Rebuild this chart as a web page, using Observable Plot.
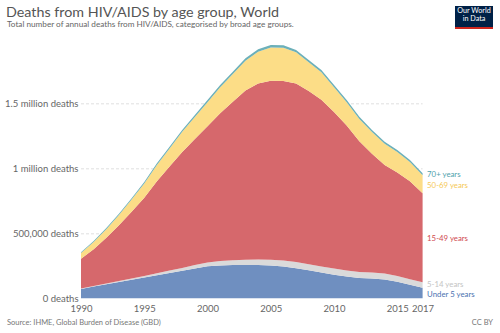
<!DOCTYPE html>
<html><head><meta charset="utf-8">
<script src="https://cdn.jsdelivr.net/npm/d3@7"></script>
<script src="https://cdn.jsdelivr.net/npm/@observablehq/plot@0.6"></script>
<style>
body{margin:0;width:500px;height:333px;position:relative;font-family:Lato,sans-serif;background:#fff;overflow:hidden}
#title{position:absolute;left:6px;top:3px;font-size:14.3px;color:#555;white-space:nowrap;line-height:17px}
#subtitle{position:absolute;left:7px;top:19px;font-size:8.2px;color:#666;white-space:nowrap;line-height:11px}
#logo{position:absolute;left:455px;top:6px;width:38px;height:20px;background:#002147;border-bottom:2px solid #ce261e;color:#fff;font-size:7.2px;line-height:8.4px;text-align:center;padding-top:1px;box-sizing:content-box}
#chart{position:absolute;left:0;top:30px}
#source{position:absolute;left:7px;top:318px;font-size:7.5px;color:#777;white-space:nowrap}
#cc{position:absolute;right:7px;top:318px;font-size:7.5px;color:#777}
</style></head><body>
<div id="title">Deaths from HIV/AIDS by age group, World</div>
<div id="subtitle">Total number of annual deaths from HIV/AIDS, categorised by broad age groups.</div>
<div id="logo">Our World<br>in Data</div>
<div id="chart"></div>
<div id="source">Source: IHME, Global Burden of Disease (GBD)</div>
<div id="cc">CC BY</div>
<script>
const years = [1990,1991,1992,1993,1994,1995,1996,1997,1998,1999,2000,2001,2002,2003,2004,2005,2006,2007,2008,2009,2010,2011,2012,2013,2014,2015,2016,2017];
// deaths, thousands
const under5 = [72,90,108,125,143,160,178,195,212,230,246,252,256,257,256,252,244,232,215,198,182,168,157,152,145,128,105,82];
const age5to14 = [4,5,6,8,10,12,15,18,22,26,30,34,37,39,42,45,46,47,47,47,47,46,46,46,45,44,42,41];
const age15to49 = [228,283,351,428,512,602,708,800,892,969,1048,1138,1218,1302,1354,1377,1382,1373,1333,1283,1205,1116,1005,913,836,795,753,685];
const age50to69 = [45,55,67,80,95,110,125,140,155,170,185,200,215,230,245,256,256,240,220,210,190,178,172,168,163,158,148,138];
const age70plus = [6,7,8,9,10,11,12,13,14,15,16,17,17,18,18,18,18,18,18,18,17,17,17,16,16,16,16,16];

const groups = ["Under 5 years","5-14 years","15-49 years","50-69 years","70+ years"];
const fills = ["#6f8fc0","#dadada","#d6686c","#fcdd87","#6cb0b9"];
const labelColors = ["#4a72b0","#c4c4c4","#d04a50","#f5c957","#4fa2ad"];
const labelNudge = [1.2,-1.2,0,0.5,-0.5];
const yTicks = [0,500000,1000000,1500000];
const yTickLabels = ["0 deaths","500,000 deaths","1 million deaths","1.5 million deaths"];
const xTicks = [1990,1995,2000,2005,2010,2015,2017];

const series = [under5, age5to14, age15to49, age50to69, age70plus];
const table = [];
groups.forEach((g,i)=>years.forEach((yr,j)=>table.push({year:yr, group:g, deaths:series[i][j]*1000})));

// label positions: middle of each band at last year
const last = years.length-1;
let cum = 0;
const labels = groups.map((g,i)=>{
  const v = series[i][last]*1000;
  const mid = cum + v/2; cum += v;
  return {year:years[last], y:mid, text:g, color:labelColors[i], nudge:labelNudge[i]};
});

const plot = Plot.plot({
  width:500, height:290,
  marginLeft:81, marginRight:77.4, marginTop:8.3, marginBottom:21.7,
  style:{fontFamily:"Lato, sans-serif", fontSize:"9.5px", color:"#666", background:"transparent", overflow:"visible"},
  x:{domain:[1990,2017]},
  y:{domain:[0,2000000]},
  color:{domain:groups, range:fills},
  marks:[
    Plot.ruleY(yTicks.slice(1), {stroke:"#d8d8d8", strokeDasharray:"3,2", strokeWidth:0.8}),
    Plot.areaY(table, {x:"year", y:"deaths", fill:"group", order:groups}),
    Plot.axisX({ticks:xTicks, tickFormat:d=>String(d), tickSize:0, tickPadding:6, label:null, fill:"#666", fontSize:9.5}),
    Plot.axisY({ticks:yTicks, tickFormat:d=>yTickLabels[yTicks.indexOf(d)], tickSize:0, tickPadding:3, label:null, fill:"#666", fontSize:9.5}),
    ...labels.map(l => Plot.text([l], {x:"year", y:"y", text:"text", fill:"color", textAnchor:"start", dx:4, dy:l.nudge, fontSize:7.8}))
  ]
});
document.getElementById("chart").appendChild(plot);
</script>
</body></html>
